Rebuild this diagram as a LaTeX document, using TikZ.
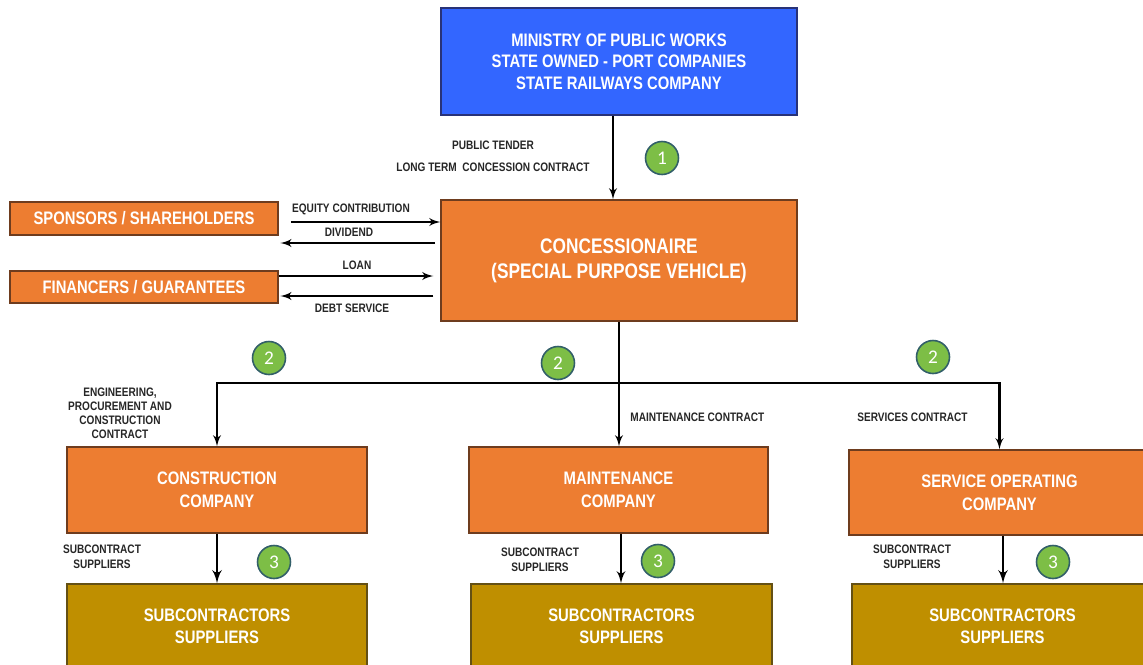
\documentclass[tikz,border=0pt]{standalone}
\usepackage{fontspec}
\setmainfont{Liberation Sans}[FakeStretch=0.82]
\newfontfamily\numfont{Carlito}
\usepackage{tikz}
\usetikzlibrary{arrows,shapes,positioning,calc}
\definecolor{blueorg}{RGB}{51,102,255}
\definecolor{blueedge}{RGB}{40,50,120}
\definecolor{orangeorg}{RGB}{237,125,49}
\definecolor{orangeedge}{RGB}{110,60,30}
\definecolor{goldorg}{RGB}{191,143,0}
\definecolor{goldedge}{RGB}{100,80,20}
\definecolor{greenorg}{RGB}{125,190,70}
\definecolor{greenedge}{RGB}{50,95,105}

\begin{document}
\begin{tikzpicture}[x=0.02cm,y=-0.02cm]

           \tikzstyle{box}=[draw=orangeedge, fill=orangeorg, text=white, align=center, inner sep=0pt, line width=0.8pt, font=\bfseries\fontsize{10.3}{13}\selectfont]
           \tikzstyle{subbox}=[box, draw=goldedge, fill=goldorg, font=\bfseries\fontsize{10.3}{12.5}\selectfont]
           \tikzstyle{lab}=[text=black!85, align=center, inner sep=0pt, font=\bfseries\fontsize{7}{8.5}\selectfont]
           \tikzstyle{num}=[circle, draw=greenedge, line width=0.9pt, fill=greenorg, text=white, minimum size=0.66cm, inner sep=0pt, font=\numfont\fontsize{11}{11}\selectfont]
           \tikzstyle{link}=[draw, line width=1.2pt, >=latex']

    \useasboundingbox (0,0) rectangle (1143,664);
    \clip (0,0) rectangle (1143,664);

   % boxes
   \node[box, draw=blueedge, fill=blueorg, minimum width=7.12cm, minimum height=2.14cm, font=\bfseries\fontsize{10.3}{12.2}\selectfont] (ministry) at (619,61.5) {MINISTRY OF PUBLIC WORKS\\STATE OWNED - PORT COMPANIES\\STATE RAILWAYS COMPANY};
   \node[box, minimum width=7.12cm, minimum height=2.42cm, font=\bfseries\fontsize{12}{14.2}\selectfont] (spv) at (619,260.5) {CONCESSIONAIRE\\(SPECIAL PURPOSE VEHICLE)};
   \node[box, minimum width=5.36cm, minimum height=0.66cm] (sponsors) at (144,218.5) {SPONSORS / SHAREHOLDERS};
   \node[box, minimum width=5.36cm, minimum height=0.64cm] (financers) at (144,287) {FINANCERS / GUARANTEES};
   \node[box, minimum width=6cm, minimum height=1.72cm] (construction) at (217,490) {CONSTRUCTION\\COMPANY};
   \node[box, minimum width=5.98cm, minimum height=1.72cm] (maintenance) at (618.5,490) {MAINTENANCE\\COMPANY};
   \node[box, minimum width=6.02cm, minimum height=1.7cm] (service) at (999.5,492.5) {SERVICE OPERATING\\COMPANY};
   \node[subbox, minimum width=6cm, minimum height=1.68cm] (sub1) at (217,626) {SUBCONTRACTORS\\SUPPLIERS};
   \node[subbox, minimum width=6.02cm, minimum height=1.68cm] (sub2) at (621.5,626) {SUBCONTRACTORS\\SUPPLIERS};
   \node[subbox, minimum width=6.02cm, minimum height=1.68cm] (sub3) at (1002.5,626) {SUBCONTRACTORS\\SUPPLIERS};

   % contracts
   \path[link,->] (ministry.south -| 613,0) -- (spv.north -| 613,0);
   \path[link,->,shorten <=7pt] (sponsors.east |- 0,222) -- (spv.west |- 0,222);
   \path[link,->,shorten <=3pt,shorten >=1pt] (spv.west |- 0,243) -- (sponsors.east |- 0,243);
   \path[link,->,shorten >=4pt] (financers.east |- 0,276) -- (spv.west |- 0,276);
   \path[link,->,shorten <=4pt,shorten >=1pt] (spv.west |- 0,296) -- (financers.east |- 0,296);
   \coordinate (split) at (619,383);
   \path[link] (spv.south) -- (split);
   \path[link,->] (split) -| (construction.north);
   \path[link,->] (split) -- (maintenance.north -| split);
   \path[link,->] (split) -| (service.north);
   \path[link,->,line width=1.6pt] (construction.south) -- (sub1.north);
   \path[link,->,line width=1.4pt] (maintenance.south -| 621,0) -- (sub2.north -| 621,0);
   \path[link,->,line width=1.6pt] (service.south -| 1003,0) -- (sub3.north -| 1003,0);

   % labels
   \node[lab] (tender) at (493,145) {PUBLIC TENDER};
   \node[lab] (concession) at (493,167) {LONG TERM\ \ CONCESSION CONTRACT};
   \node[lab] (equity) at (351,209) {EQUITY CONTRIBUTION};
   \node[lab] (dividend) at (349,232) {DIVIDEND};
   \node[lab] (loan) at (357,265) {LOAN};
   \node[lab] (debt) at (352,308) {DEBT SERVICE};
   \node[lab, font=\bfseries\fontsize{7}{8}\selectfont] (epc) at (120,413) {ENGINEERING,\\PROCUREMENT\ AND\\CONSTRUCTION\\CONTRACT};
   \node[lab, anchor=west] (mcontract) at (630,417) {MAINTENANCE CONTRACT};
   \node[lab, anchor=west] (scontract) at (857,417) {SERVICES CONTRACT};
   \node[lab] (subc1) at (102,557) {SUBCONTRACT\\SUPPLIERS};
   \node[lab] (subc2) at (540,560) {SUBCONTRACT\\SUPPLIERS};
   \node[lab] (subc3) at (912,557) {SUBCONTRACT\\SUPPLIERS};

   % steps
   \node[num] (n1) at (662,158) {1};
   \node[num] (n2a) at (269,358) {2};
   \node[num] (n2b) at (558,363) {2};
   \node[num] (n2c) at (933,357) {2};
   \node[num] (n3a) at (274,562) {3};
   \node[num] (n3b) at (658,561) {3};
   \node[num] (n3c) at (1053,562) {3};
 \end{tikzpicture}
\end{document}
